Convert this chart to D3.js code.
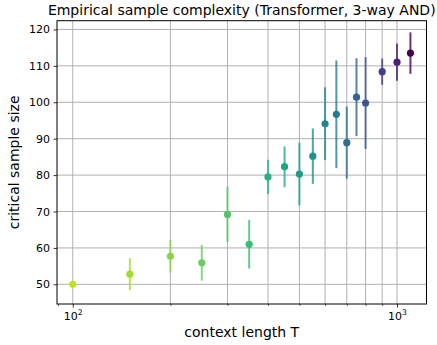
<!DOCTYPE html>
<html>
<head>
<meta charset="utf-8">
<script src="https://cdn.jsdelivr.net/npm/d3@7/dist/d3.min.js"></script>
<style>
  html, body { margin: 0; padding: 0; background: #fff; }
  svg { display: block; font-family: "DejaVu Sans", sans-serif; }
</style>
</head>
<body>
<svg id="chart" width="437" height="345"></svg>
<script>
// Context lengths T and the measured critical sample size (mean ± spread)
const contextLengths = [100, 150, 200, 250, 300, 350, 400, 450, 500, 550, 600, 650, 700, 750, 800, 900, 1000, 1100];
const criticalSize   = [50.0, 52.8, 57.7, 55.9, 69.2, 61.0, 79.5, 82.3, 80.3, 85.2, 94.1, 96.7, 88.9, 101.4, 99.8, 108.4, 111.0, 113.5];
const errorSize      = [0.0, 4.4, 4.5, 4.9, 7.6, 6.7, 4.7, 5.6, 8.6, 7.6, 10.0, 14.8, 9.9, 10.7, 12.6, 3.6, 5.1, 5.7];
const yTicks = [50, 60, 70, 80, 90, 100, 110, 120];
const xMajorTicks = [100, 1000];
const xMinorTicks = [90, 200, 300, 400, 500, 600, 700, 800, 900];

const width = 437, height = 345;
const margin = { left: 57, right: 10.5, top: 20.7, bottom: 41 };
const svg = d3.select("#chart");

const x = d3.scaleLog().domain([89.4, 1233]).range([margin.left, width - margin.right]);
const y = d3.scaleLinear().domain([44.6, 122.4]).range([height - margin.bottom, margin.top]);

// Colour follows T on a reversed viridis map
const color = t => d3.interpolateViridis(1 - t / 1100);

const plot = svg.append("g");
const gridColor = "#b0b0b0";

// Grid lines (major and minor on the log axis)
plot.append("g").selectAll("line.gx")
  .data(xMajorTicks.concat(xMinorTicks).filter(d => d >= 100))
  .join("line")
  .attr("x1", d => x(d)).attr("x2", d => x(d))
  .attr("y1", margin.top).attr("y2", height - margin.bottom)
  .attr("stroke", gridColor).attr("stroke-width", 1);
plot.append("g").selectAll("line.gy")
  .data(yTicks)
  .join("line")
  .attr("x1", margin.left).attr("x2", width - margin.right)
  .attr("y1", d => y(d)).attr("y2", d => y(d))
  .attr("stroke", gridColor).attr("stroke-width", 1);

const pts = contextLengths.map((t, i) => ({ t, v: criticalSize[i], e: errorSize[i] }));

// Error bars
plot.append("g").selectAll("line.err")
  .data(pts)
  .join("line")
  .attr("x1", d => x(d.t)).attr("x2", d => x(d.t))
  .attr("y1", d => y(d.v - d.e)).attr("y2", d => y(d.v + d.e))
  .attr("stroke", d => color(d.t))
  .attr("stroke-opacity", 0.8)
  .attr("stroke-width", 2);

// Means
plot.append("g").selectAll("circle")
  .data(pts)
  .join("circle")
  .attr("cx", d => x(d.t)).attr("cy", d => y(d.v))
  .attr("r", 3.6)
  .attr("fill", d => color(d.t));

// Axes
const yAxis = d3.axisLeft(y).tickValues(yTicks).tickSize(3.5).tickPadding(3.5).tickFormat(d3.format("d"));
const gy = svg.append("g").attr("transform", `translate(${margin.left},0)`).call(yAxis);
gy.select(".domain").remove();
gy.selectAll("text").attr("font-size", 11).attr("fill", "#000").attr("font-family", "DejaVu Sans");
gy.selectAll("line").attr("stroke", "#000").attr("stroke-width", 0.8);

const xAxisMinor = d3.axisBottom(x).tickValues(xMinorTicks).tickSize(2).tickFormat("");
const gxm = svg.append("g").attr("transform", `translate(0,${height - margin.bottom})`).call(xAxisMinor);
gxm.select(".domain").remove();
gxm.selectAll("line").attr("stroke", "#000").attr("stroke-width", 0.6);

const xAxis = d3.axisBottom(x).tickValues(xMajorTicks).tickSize(3.5).tickFormat("");
const gx = svg.append("g").attr("transform", `translate(0,${height - margin.bottom})`).call(xAxis);
gx.select(".domain").remove();
gx.selectAll("line").attr("stroke", "#000").attr("stroke-width", 0.8);
gx.selectAll(".tick").each(function(d) {
  const txt = d3.select(this).append("text")
    .attr("y", 16).attr("text-anchor", "middle")
    .attr("font-size", 11).attr("fill", "#000").attr("font-family", "DejaVu Sans");
  txt.append("tspan").text("10");
  txt.append("tspan").attr("font-size", 7.7).attr("dy", -5).text(Math.round(Math.log10(d)));
});

// Frame
svg.append("rect")
  .attr("x", margin.left).attr("y", margin.top)
  .attr("width", width - margin.right - margin.left)
  .attr("height", height - margin.bottom - margin.top)
  .attr("fill", "none").attr("stroke", "#000").attr("stroke-width", 1);

// Labels
const cx = (margin.left + width - margin.right) / 2;
svg.append("text")
  .attr("x", cx).attr("y", 15).attr("text-anchor", "middle")
  .attr("font-size", 14).attr("fill", "#000")
  .text("Empirical sample complexity (Transformer, 3-way AND)");
svg.append("text")
  .attr("x", cx).attr("y", 337).attr("text-anchor", "middle")
  .attr("font-size", 14).attr("fill", "#000")
  .text("context length T");
svg.append("text")
  .attr("transform", `translate(18.5,${(margin.top + height - margin.bottom) / 2}) rotate(-90)`)
  .attr("text-anchor", "middle")
  .attr("font-size", 14).attr("fill", "#000")
  .text("critical sample size");
</script>
</body>
</html>
